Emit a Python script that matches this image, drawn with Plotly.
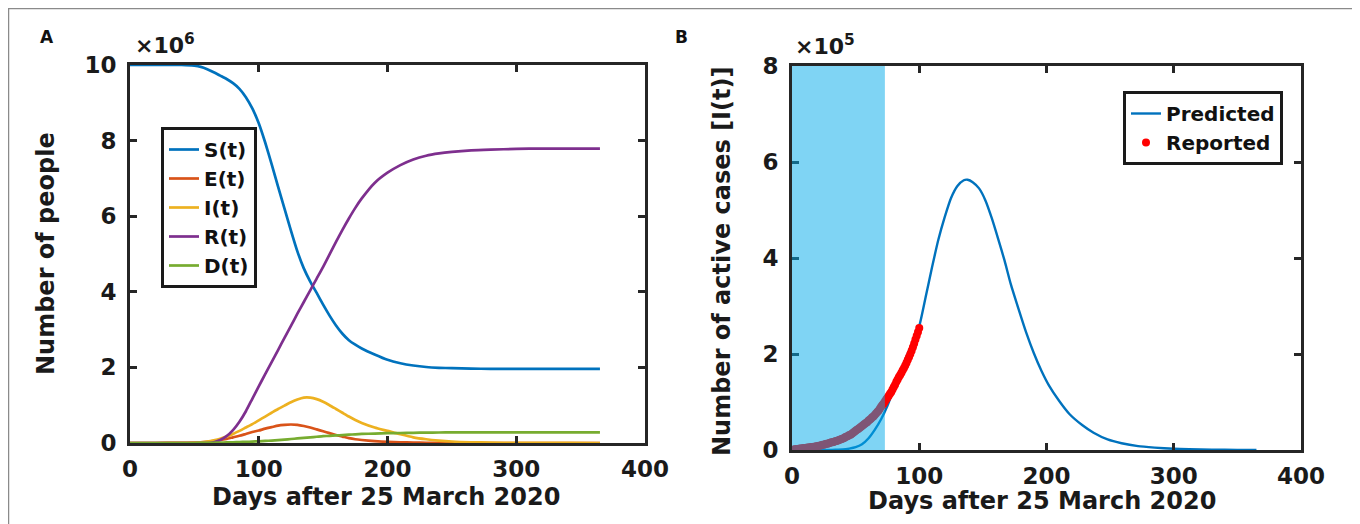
import plotly.graph_objects as go

# ---------------- Panel A data (values in units of 10^6 people) ----------------
days_a = [0, 20, 40, 50, 55, 60, 65, 70, 75, 80, 85, 90, 95, 100, 105, 110, 115, 120,
          125, 130, 135, 140, 145, 150, 155, 160, 165, 170, 175, 180, 190, 200, 210,
          220, 230, 240, 250, 265, 280, 300, 320, 340, 365]
S_t = [10, 10, 10, 9.98, 9.95, 9.89, 9.81, 9.72, 9.63, 9.52, 9.37, 9.15, 8.85, 8.46,
       7.95, 7.38, 6.78, 6.2, 5.62, 5.07, 4.62, 4.27, 3.97, 3.66, 3.37, 3.11, 2.89,
       2.72, 2.6, 2.5, 2.34, 2.2, 2.11, 2.05, 2.01, 1.99, 1.98, 1.97, 1.96, 1.96,
       1.96, 1.96, 1.96]
E_t = [0, 0, 0.003, 0.008, 0.015, 0.03, 0.05, 0.08, 0.11, 0.15, 0.19, 0.24, 0.29, 0.33,
       0.38, 0.42, 0.46, 0.48, 0.49, 0.48, 0.45, 0.41, 0.36, 0.31, 0.26, 0.21, 0.17,
       0.13, 0.1, 0.08, 0.05, 0.03, 0.02, 0.01, 0.006, 0.004, 0.002, 0.001, 0, 0, 0,
       0, 0]
I_t = [0, 0, 0.005, 0.01, 0.02, 0.04, 0.07, 0.11, 0.17, 0.24, 0.32, 0.41, 0.5, 0.6,
       0.7, 0.8, 0.9, 0.99, 1.08, 1.15, 1.2, 1.2, 1.16, 1.09, 1.0, 0.9, 0.8, 0.7,
       0.61, 0.53, 0.41, 0.32, 0.23, 0.15, 0.1, 0.065, 0.04, 0.02, 0.01, 0.005,
       0.002, 0.001, 0]
R_t = [0, 0, 0, 0, 0, 0, 0.02, 0.08, 0.18, 0.34, 0.56, 0.84, 1.17, 1.5, 1.82, 2.14,
       2.46, 2.78, 3.1, 3.42, 3.73, 4.04, 4.35, 4.66, 4.99, 5.32, 5.64, 5.94, 6.22,
       6.47, 6.88, 7.15, 7.35, 7.5, 7.6, 7.66, 7.7, 7.74, 7.76, 7.78, 7.79, 7.79,
       7.79]
D_t = [0, 0, 0, 0, 0.002, 0.005, 0.007, 0.01, 0.015, 0.02, 0.025, 0.03, 0.037, 0.045,
       0.055, 0.065, 0.077, 0.09, 0.105, 0.12, 0.135, 0.15, 0.165, 0.18, 0.19, 0.2,
       0.21, 0.22, 0.23, 0.24, 0.25, 0.26, 0.265, 0.27, 0.275, 0.278, 0.28, 0.28,
       0.28, 0.28, 0.28, 0.28, 0.28]
series_names_a = ["S(t)", "E(t)", "I(t)", "R(t)", "D(t)"]
series_colors_a = ["#0072BD", "#D95319", "#EDB120", "#7E2F8E", "#77AC30"]

# ---------------- Panel B data (values in units of 10^5 active cases) ----------------
days_pred = [0, 10, 20, 30, 35, 40, 45, 50, 55, 60, 65, 70, 75, 80, 85, 90, 95, 100,
             105, 110, 115, 120, 125, 130, 135, 138, 142, 147, 152, 157, 162, 167,
             172, 178, 184, 190, 196, 202, 210, 218, 228, 237, 248, 259, 272, 285,
             300, 312, 330, 350, 365]
predicted = [0, 0, 0, 0, 0.005, 0.01, 0.03, 0.06, 0.12, 0.24, 0.42, 0.64, 0.92, 1.27,
             1.6, 1.95, 2.25, 2.58, 3.18, 3.8, 4.38, 4.85, 5.25, 5.5, 5.62, 5.63, 5.58,
             5.45, 5.2, 4.83, 4.4, 3.95, 3.45, 2.94, 2.45, 2.02, 1.65, 1.34, 1.02,
             0.75, 0.52, 0.36, 0.22, 0.14, 0.08, 0.05, 0.025, 0.015, 0.007, 0.003, 0.001]
days_rep = list(range(0, 101))
reported = [0.00, 0.01, 0.01, 0.02, 0.02, 0.02, 0.03, 0.03, 0.03, 0.04,
            0.04, 0.04, 0.05, 0.05, 0.05, 0.06, 0.06, 0.07, 0.07, 0.08,
            0.08, 0.09, 0.09, 0.10, 0.11, 0.11, 0.12, 0.13, 0.13, 0.14,
            0.15, 0.16, 0.16, 0.17, 0.18, 0.19, 0.20, 0.21, 0.22, 0.23,
            0.24, 0.25, 0.27, 0.28, 0.29, 0.31, 0.32, 0.34, 0.36, 0.38,
            0.40, 0.42, 0.44, 0.46, 0.48, 0.50, 0.52, 0.54, 0.56, 0.58,
            0.61, 0.63, 0.65, 0.68, 0.70, 0.73, 0.76, 0.79, 0.82, 0.86,
            0.90, 0.94, 0.97, 1.01, 1.05, 1.09, 1.13, 1.17, 1.21, 1.26,
            1.31, 1.36, 1.42, 1.47, 1.52, 1.56, 1.61, 1.66, 1.71, 1.76,
            1.82, 1.88, 1.94, 2.00, 2.07, 2.14, 2.22, 2.30, 2.38, 2.46,
            2.54]
fit_window = [0, 73]  # shaded training period (days)

x_ticks = [0, 100, 200, 300, 400]
y_ticks_a = [0, 2, 4, 6, 8, 10]
y_ticks_b = [0, 2, 4, 6, 8]

FONT = "DejaVu Sans"
AX = "#262626"
OFF = 8                      # page body margin of the html page
W, H = 1360 - OFF, 524 - OFF

fig = go.Figure()
for name, vals, col in zip(series_names_a, [S_t, E_t, I_t, R_t, D_t], series_colors_a):
    fig.add_trace(go.Scatter(x=days_a, y=vals, mode="lines", name=name,
                             line=dict(color=col, width=2.7, shape="spline", smoothing=0.6),
                             xaxis="x", yaxis="y", legend="legend"))

fig.add_trace(go.Scatter(x=days_pred, y=predicted, mode="lines", name="Predicted",
                         line=dict(color="#0072BD", width=2.4, shape="spline", smoothing=0.6),
                         xaxis="x2", yaxis="y2", legend="legend2"))
fig.add_trace(go.Scatter(x=days_rep, y=reported, mode="markers", name="Reported",
                         marker=dict(color="#ff0000", size=8, symbol="circle"),
                         xaxis="x2", yaxis="y2", legend="legend2"))

def px_x(v):
    return (v - OFF) / W

def px_y(v):
    return 1 - (v - OFF) / H

axis_common = dict(showline=True, linecolor=AX, linewidth=3, mirror="allticks",
                   ticks="inside", ticklen=7, tickwidth=3, tickcolor=AX,
                   showgrid=False, zeroline=False, automargin=False,
                   tickfont=dict(family=FONT, size=23, color="#1a1a1a", weight="bold"))

leg_font = dict(family=FONT, size=20, color="#111", weight="bold")
fig.update_layout(
    width=W, height=H,
    margin=dict(l=0, r=0, t=0, b=0, pad=0, autoexpand=False),
    paper_bgcolor="white", plot_bgcolor="white",
    showlegend=True,
    xaxis=dict(domain=[px_x(130), px_x(645)], range=[0, 400], tickvals=x_ticks,
               anchor="y", ticklabelstandoff=3, **axis_common),
    yaxis=dict(domain=[px_y(443), px_y(65)], range=[0, 10], tickvals=y_ticks_a,
               anchor="x", ticklabelstandoff=6, **axis_common),
    xaxis2=dict(domain=[px_x(792), px_x(1301)], range=[0, 400], tickvals=x_ticks,
                anchor="y2", ticklabelstandoff=3, **axis_common),
    yaxis2=dict(domain=[px_y(450), px_y(66)], range=[0, 8], tickvals=y_ticks_b,
                anchor="x2", ticklabelstandoff=6, **axis_common),
    legend=dict(x=px_x(161), y=px_y(127), xanchor="left", yanchor="top",
                bgcolor="white", bordercolor="#1a1a1a", borderwidth=3,
                font=leg_font, itemwidth=30, tracegroupgap=0),
    legend2=dict(x=px_x(1283), y=px_y(91), xanchor="right", yanchor="top",
                 bgcolor="white", bordercolor="#1a1a1a", borderwidth=3,
                 font=leg_font, itemwidth=30, tracegroupgap=0),
)

# shaded fitting window in panel B (drawn above, semi-transparent)
fig.add_shape(type="rect", xref="x2", yref="y2", x0=fit_window[0], x1=fit_window[1],
              y0=0, y1=8, fillcolor="rgba(0,169,233,0.5)", line=dict(width=0),
              layer="above")

# outer frame
fig.add_shape(type="rect", xref="paper", yref="paper", x0=px_x(8.5), x1=px_x(1353),
              y0=-0.05, y1=px_y(8.5), line=dict(color="#8a8a8a", width=1.5),
              fillcolor="rgba(0,0,0,0)", layer="below")

ann_font = dict(family=FONT, size=24, color="#1a1a1a", weight="bold")
annotations = [
    dict(text="A", x=px_x(47), y=px_y(37), xanchor="center", yanchor="middle",
         font=dict(family=FONT, size=17, color="#111", weight="bold")),
    dict(text="B", x=px_x(681), y=px_y(37), xanchor="center", yanchor="middle",
         font=dict(family=FONT, size=17, color="#111", weight="bold")),
    dict(text="×10<sup>6</sup>", x=px_x(133), y=px_y(44), xanchor="left", yanchor="middle",
         font=dict(family=FONT, size=22, color="#1a1a1a", weight="bold")),
    dict(text="×10<sup>5</sup>", x=px_x(793), y=px_y(45), xanchor="left", yanchor="middle",
         font=dict(family=FONT, size=22, color="#1a1a1a", weight="bold")),
    dict(text="Days after 25 March 2020", x=px_x(386), y=px_y(497), xanchor="center",
         yanchor="middle", font=ann_font),
    dict(text="Days after 25 March 2020", x=px_x(1042), y=px_y(501), xanchor="center",
         yanchor="middle", font=ann_font),
    dict(text="Number of people", x=px_x(46), y=px_y(254), xanchor="center",
         yanchor="middle", textangle=-90, font=ann_font),
    dict(text="Number of active cases [I(t)]", x=px_x(722), y=px_y(262), xanchor="center",
         yanchor="middle", textangle=-90, font=ann_font),
]
for a in annotations:
    a.update(xref="paper", yref="paper", showarrow=False)
fig.update_layout(annotations=annotations)

fig.write_html("out.html")
